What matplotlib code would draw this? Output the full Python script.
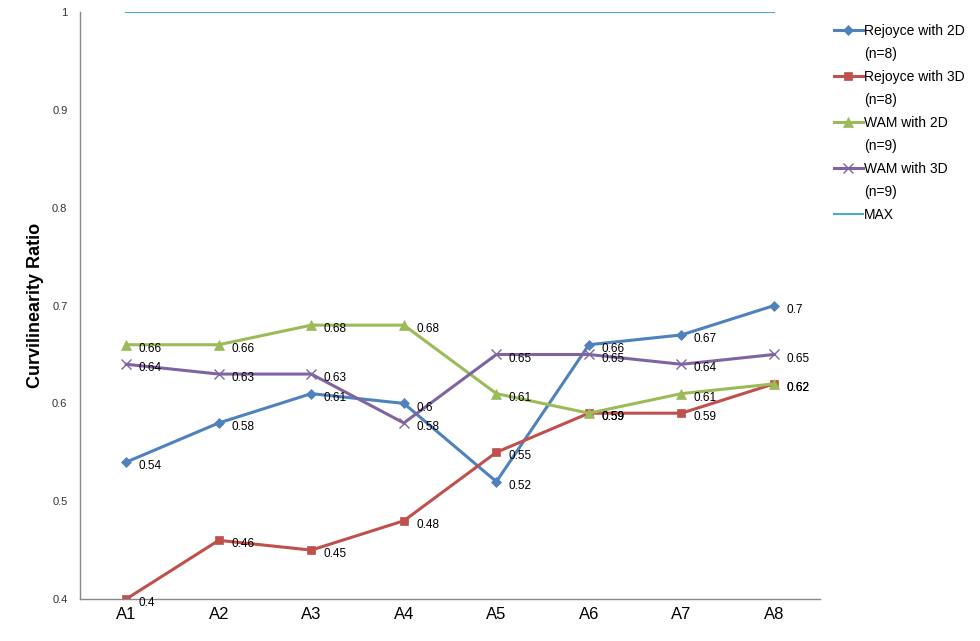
import matplotlib.pyplot as plt
from matplotlib.lines import Line2D

plt.rcParams['font.family'] = ['Liberation Sans', 'DejaVu Sans']

# Data
categories = ["A1", "A2", "A3", "A4", "A5", "A6", "A7", "A8"]
rejoyce_2d = [0.54, 0.58, 0.61, 0.6, 0.52, 0.66, 0.67, 0.7]
rejoyce_3d = [0.4, 0.46, 0.45, 0.48, 0.55, 0.59, 0.59, 0.62]
wam_2d = [0.66, 0.66, 0.68, 0.68, 0.61, 0.59, 0.61, 0.62]
wam_3d = [0.64, 0.63, 0.63, 0.58, 0.65, 0.65, 0.64, 0.65]
max_line = [1, 1, 1, 1, 1, 1, 1, 1]

series = [
    ("Rejoyce with 2D", "(n=8)", rejoyce_2d, "#4F81BD", "D", 5),
    ("Rejoyce with 3D", "(n=8)", rejoyce_3d, "#C0504D", "s", 6),
    ("WAM with 2D", "(n=9)", wam_2d, "#9BBB59", "^", 7),
    ("WAM with 3D", "(n=9)", wam_3d, "#8064A2", "x", 7),
]

fig = plt.figure(figsize=(9.8, 6.41), dpi=100)
ax = fig.add_axes([0.0816, 0.0655, 0.7554, 0.9155])

x = list(range(len(categories)))
handles, labels = [], []
for name, n_txt, vals, color, marker, ms in series:
    line, = ax.plot(x, vals, color=color, lw=2.2, marker=marker, markersize=ms,
                    markeredgewidth=1.0 if marker == "x" else 0.5)
    for xi, v in zip(x, vals):
        ax.annotate(f"{v:g}", (xi, v), xytext=(9, -3), textcoords="offset points",
                    fontsize=8.5, va="center", ha="left", color="black")
    # first legend line carries the handle, second line is the sample size
    handles += [line, Line2D([], [], linestyle="none")]
    labels += [name, n_txt]

max_ln, = ax.plot(x, max_line, color="#4BACC6", lw=1.5)
handles.append(max_ln)
labels.append("MAX")

ax.set_xlim(-0.5, 7.5)
ax.set_ylim(0.4, 1.0)
ax.set_xticks(x)
ax.set_xticklabels(categories, fontsize=12)
ax.set_yticks([0.4, 0.5, 0.6, 0.7, 0.8, 0.9, 1.0])
ax.set_yticklabels(["0.4", "0.5", "0.6", "0.7", "0.8", "0.9", "1"], fontsize=8, color="#333333")
ax.tick_params(axis="both", length=0)
ax.tick_params(axis="y", pad=9)
ax.tick_params(axis="x", pad=6)
ax.set_ylabel("Curvilinearity Ratio", fontsize=13, fontweight="bold", labelpad=6)

for side in ["top", "right"]:
    ax.spines[side].set_visible(False)
for side in ["left", "bottom"]:
    ax.spines[side].set_color("#888888")
    ax.spines[side].set_linewidth(1)

fig.legend(handles, labels, loc="upper left", bbox_to_anchor=(0.838, 0.982), frameon=False,
           fontsize=10, handlelength=2.1, handletextpad=0.1, labelspacing=0.65)

fig.savefig("out.png", dpi=100)
